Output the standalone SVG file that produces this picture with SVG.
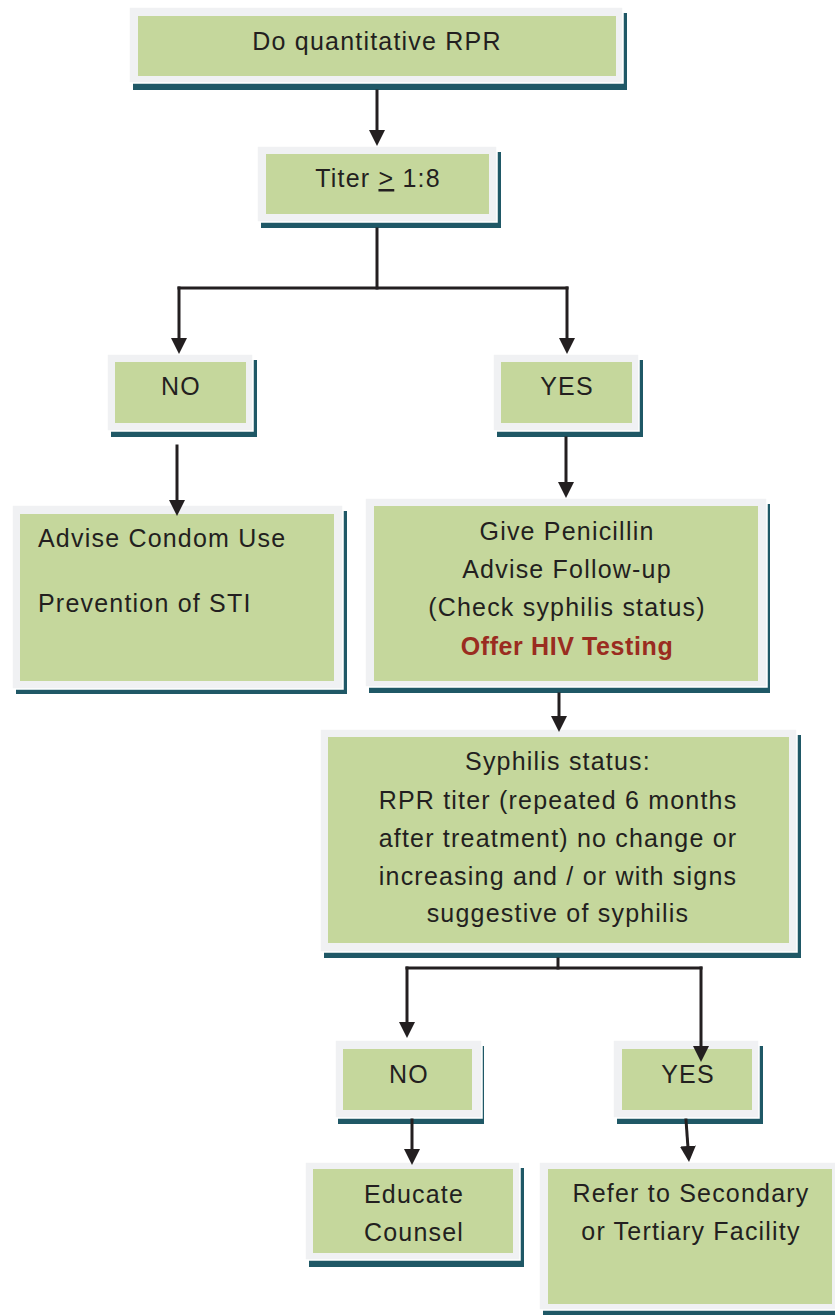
<svg xmlns="http://www.w3.org/2000/svg" width="835" height="1315" viewBox="0 0 835 1315">
  <defs>
    <style>
      .shadow { fill: #1f5866; }
      .frame { fill: #f0f1f3; stroke: #ffffff; stroke-width: 1.5; }
      .panel { fill: #c5d79c; }
      .label { font-family: "Liberation Sans", Arial, sans-serif; font-size: 25px; letter-spacing: 1.2px; fill: #231f20; }
      .mid { text-anchor: middle; }
      .alert { font-weight: bold; fill: #9a2c20; letter-spacing: 0.6px; }
      .wire { fill: none; stroke: #231f20; stroke-width: 3; stroke-linecap: square; }
    </style>
    <!-- arrowhead: tip extends 10px beyond the line end -->
    <marker id="arrow" markerUnits="userSpaceOnUse" markerWidth="18" markerHeight="18" refX="6" refY="8" orient="auto">
      <path d="M0,0 L16,8 L0,16 Z" fill="#231f20"/>
    </marker>
  </defs>

  <rect width="835" height="1315" fill="#ffffff"/>

  <!-- nodes -->
  <g id="node-rpr">
    <rect class="shadow" x="133" y="13" width="494" height="77"/>
    <rect class="frame" x="129" y="7" width="494" height="76"/>
    <rect class="panel" x="138" y="16" width="478" height="60"/>
    <text class="label mid" x="377" y="50">Do quantitative RPR</text>
  </g>

  <g id="node-titer">
    <rect class="shadow" x="261" y="152" width="240" height="76"/>
    <rect class="frame" x="257" y="146" width="240" height="76"/>
    <rect class="panel" x="266" y="154" width="223" height="60"/>
    <text class="label mid" x="378" y="187">Titer <tspan text-decoration="underline">&gt;</tspan> 1:8</text>
  </g>

  <g id="node-no-1">
    <rect class="shadow" x="111" y="360" width="146" height="77"/>
    <rect class="frame" x="107" y="354" width="146" height="77"/>
    <rect class="panel" x="115" y="362" width="131" height="61"/>
    <text class="label mid" x="181" y="395">NO</text>
  </g>

  <g id="node-yes-1">
    <rect class="shadow" x="497" y="360" width="146" height="77"/>
    <rect class="frame" x="493" y="354" width="146" height="77"/>
    <rect class="panel" x="501" y="362" width="131" height="61"/>
    <text class="label mid" x="567" y="395">YES</text>
  </g>

  <g id="node-condom">
    <rect class="shadow" x="16" y="511" width="331" height="183"/>
    <rect class="frame" x="12" y="505" width="331" height="184"/>
    <rect class="panel" x="20" y="514" width="314" height="167"/>
    <text class="label" x="38" y="547">Advise Condom Use</text>
    <text class="label" x="38" y="612">Prevention of STI</text>
  </g>

  <g id="node-penicillin">
    <rect class="shadow" x="369" y="504" width="401" height="189"/>
    <rect class="frame" x="365" y="498" width="402" height="189"/>
    <rect class="panel" x="374" y="506" width="384" height="175"/>
    <text class="label mid" x="567" y="540">Give Penicillin</text>
    <text class="label mid" x="567" y="578">Advise Follow-up</text>
    <text class="label mid" x="567" y="616">(Check syphilis status)</text>
    <text class="label mid alert" x="567" y="655">Offer HIV Testing</text>
  </g>

  <g id="node-status">
    <rect class="shadow" x="324" y="735" width="477" height="223"/>
    <rect class="frame" x="320" y="729" width="477" height="223"/>
    <rect class="panel" x="328" y="737" width="461" height="206"/>
    <text class="label mid" x="558" y="770">Syphilis status:</text>
    <text class="label mid" x="558" y="809">RPR titer (repeated 6 months</text>
    <text class="label mid" x="558" y="847">after treatment) no change or</text>
    <text class="label mid" x="558" y="885">increasing and / or with signs</text>
    <text class="label mid" x="558" y="922">suggestive of syphilis</text>
  </g>

  <g id="node-no-2">
    <rect class="shadow" x="338" y="1046" width="146" height="78"/>
    <rect class="frame" x="335" y="1040" width="147" height="78"/>
    <rect class="panel" x="343" y="1049" width="129" height="61"/>
    <text class="label mid" x="409" y="1083">NO</text>
  </g>

  <g id="node-yes-2">
    <rect class="shadow" x="617" y="1046" width="146" height="78"/>
    <rect class="frame" x="613" y="1040" width="146" height="78"/>
    <rect class="panel" x="622" y="1049" width="130" height="61"/>
    <text class="label mid" x="688" y="1083">YES</text>
  </g>

  <g id="node-educate">
    <rect class="shadow" x="309" y="1168" width="215" height="99"/>
    <rect class="frame" x="305" y="1162" width="215" height="98"/>
    <rect class="panel" x="313" y="1169" width="200" height="84"/>
    <text class="label mid" x="414" y="1203">Educate</text>
    <text class="label mid" x="414" y="1241">Counsel</text>
  </g>

  <g id="node-refer">
    <rect class="shadow" x="543" y="1168" width="300" height="147"/>
    <rect class="frame" x="539" y="1162" width="300" height="148"/>
    <rect class="panel" x="548" y="1169" width="284" height="135"/>
    <text class="label mid" x="691" y="1202">Refer to Secondary</text>
    <text class="label mid" x="691" y="1240">or Tertiary Facility</text>
  </g>

  <!-- connectors, drawn last so arrowheads sit over box frames -->
  <g id="connectors">
    <line class="wire" x1="377" y1="91" x2="377" y2="136" marker-end="url(#arrow)"/>
    <polyline class="wire" points="377,229 377,288"/>
    <polyline class="wire" points="179,288 567,288"/>
    <line class="wire" x1="179" y1="288" x2="179" y2="344" marker-end="url(#arrow)"/>
    <line class="wire" x1="567" y1="288" x2="567" y2="344" marker-end="url(#arrow)"/>
    <line class="wire" x1="177" y1="446" x2="177" y2="506" marker-end="url(#arrow)"/>
    <line class="wire" x1="566" y1="438" x2="566" y2="488" marker-end="url(#arrow)"/>
    <line class="wire" x1="559" y1="694" x2="559" y2="722" marker-end="url(#arrow)"/>
    <polyline class="wire" points="558,959 558,968"/>
    <polyline class="wire" points="407,968 701,968"/>
    <line class="wire" x1="407" y1="968" x2="407" y2="1028" marker-end="url(#arrow)"/>
    <line class="wire" x1="701" y1="968" x2="701" y2="1052" marker-end="url(#arrow)"/>
    <line class="wire" x1="412" y1="1120" x2="412" y2="1155" marker-end="url(#arrow)"/>
    <line class="wire" x1="686" y1="1120" x2="688.3" y2="1152" marker-end="url(#arrow)"/>
  </g>
</svg>
